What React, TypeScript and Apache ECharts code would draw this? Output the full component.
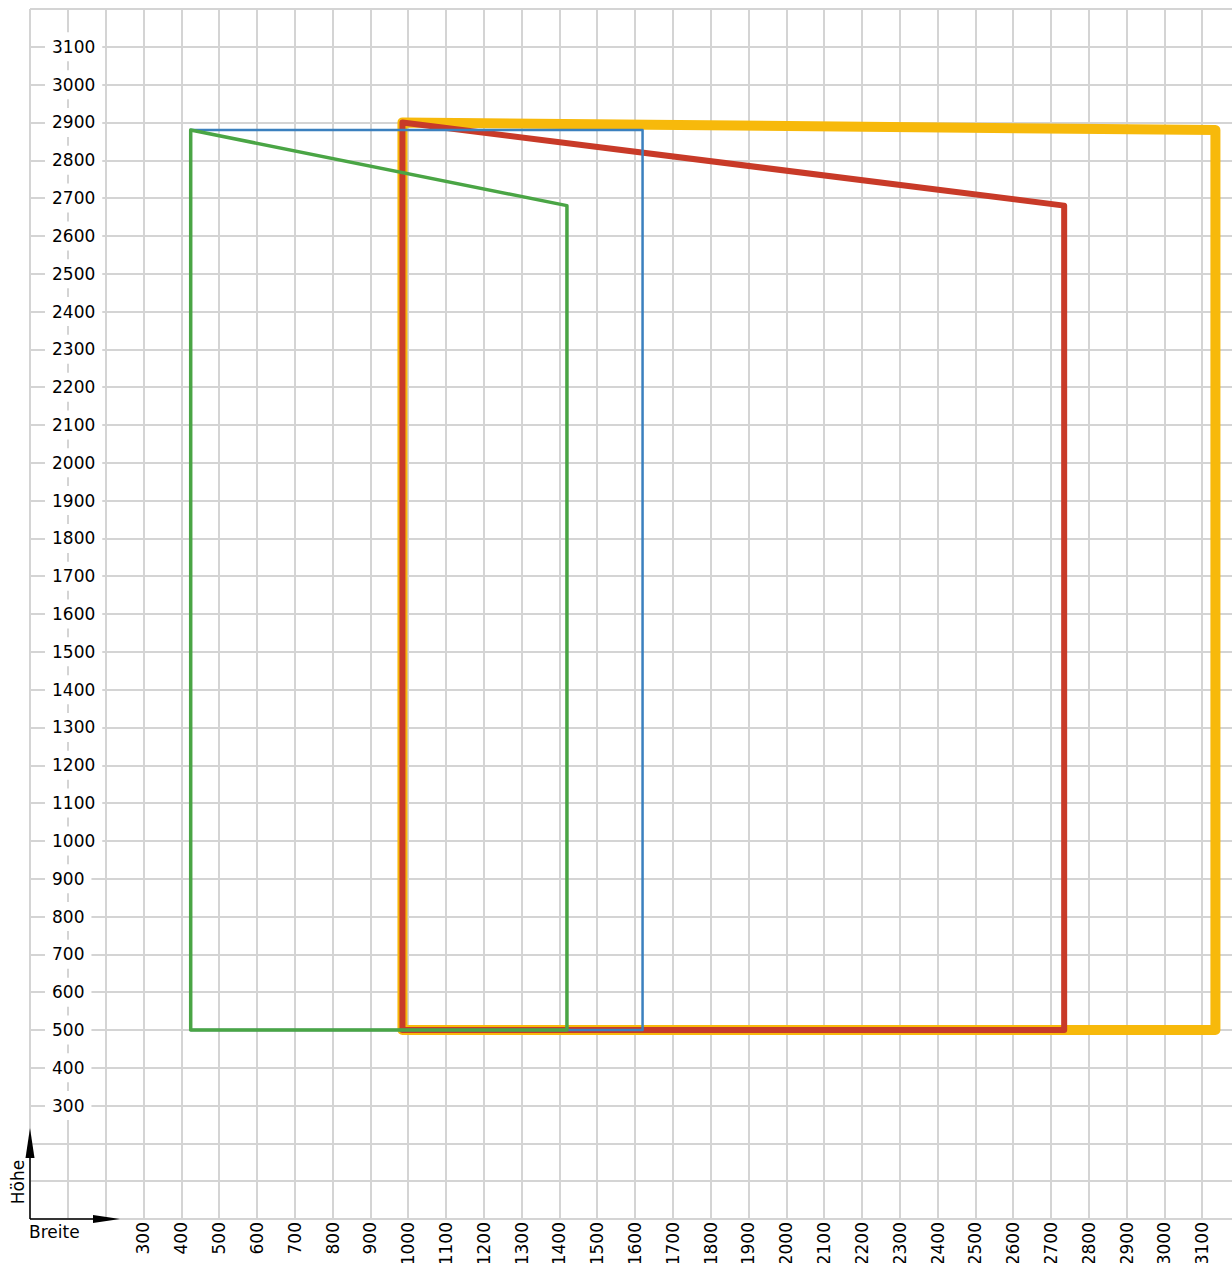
import React, { useEffect, useRef } from "react";
import * as echarts from "echarts";

// Tick labels (shown values)
const xTickLabels = [300, 400, 500, 600, 700, 800, 900, 1000, 1100, 1200, 1300, 1400, 1500, 1600, 1700, 1800, 1900, 2000, 2100, 2200, 2300, 2400, 2500, 2600, 2700, 2800, 2900, 3000, 3100];
const yTickLabels = [300, 400, 500, 600, 700, 800, 900, 1000, 1100, 1200, 1300, 1400, 1500, 1600, 1700, 1800, 1900, 2000, 2100, 2200, 2300, 2400, 2500, 2600, 2700, 2800, 2900, 3000, 3100];

// Outlines: [Breite, Höhe]
const yellowShape = [[985, 2900], [3135, 2880], [3135, 500], [985, 500], [985, 2900]];
const redShape = [[985, 2900], [2735, 2680], [2735, 500], [985, 500], [985, 2900]];
const blueShape = [[425, 2880], [1620, 2880], [1620, 500], [425, 500], [425, 2880]];
const greenShape = [[425, 2880], [1420, 2680], [1420, 500], [425, 500], [425, 2880]];

const axisTitleX = "Breite";
const axisTitleY = "Höhe";

const FONT = "DejaVu Sans";
const GRID_COLOR = "#d4d4d4";

export default function App() {
  const ref = useRef<HTMLDivElement>(null);
  useEffect(() => {
    if (!ref.current) return;
    const chart = echarts.init(ref.current, undefined, { renderer: "svg" });
    const lineSeries = (data: number[][], color: string, width: number) => ({
      type: "line",
      data,
      xAxisIndex: 0,
      yAxisIndex: 0,
      showSymbol: false,
      symbol: "none",
      clip: false,
      lineStyle: { color, width, join: "round", cap: "round" },
      z: 2,
    });
    const fmt = (v: number) => String(v);
    chart.setOption({
      animation: false,
      backgroundColor: "#ffffff",
      textStyle: { fontFamily: FONT },
      grid: {
        left: 30,
        top: 9,
        width: 1210,
        height: 1210,
        containLabel: false,
        outerBoundsMode: "none",
      },
      xAxis: {
        type: "value",
        min: 0,
        max: 3200,
        interval: 100,
        axisLine: { show: false },
        axisTick: { show: false },
        splitLine: { show: true, showMinLine: true, showMaxLine: true, lineStyle: { color: GRID_COLOR, width: 2 } },
        axisLabel: {
          show: true,
          rotate: 90,
          margin: 3,
          customValues: xTickLabels,
          formatter: fmt,
          fontSize: 17,
          fontFamily: FONT,
          color: "#000",
        },
      },
      yAxis: [
        {
          type: "value",
          min: 0,
          max: 3200,
          interval: 100,
          axisLine: { show: false },
          axisTick: { show: false },
          axisLabel: { show: false },
          splitLine: { show: true, showMinLine: true, showMaxLine: true, lineStyle: { color: GRID_COLOR, width: 2 } },
          z: 0,
        },
        {
          type: "value",
          min: 0,
          max: 3200,
          interval: 100,
          position: "left",
          axisLine: { show: false },
          axisTick: { show: false },
          splitLine: { show: false },
          axisLabel: {
            show: true,
            inside: true,
            margin: 15,
            customValues: yTickLabels,
            formatter: fmt,
            fontSize: 17,
            fontFamily: FONT,
            color: "#000",
            backgroundColor: "#ffffff",
            padding: [6, 7, 6, 7],
            align: "left",
            verticalAlign: "middle",
          },
          z: 3,
        },
      ],
      series: [
        lineSeries(yellowShape, "#F7B90B", 10),
        lineSeries(redShape, "#C83A28", 6),
        lineSeries(blueShape, "#3B80BE", 2.5),
        lineSeries(greenShape, "#4AA545", 3.5),
      ],
      graphic: [
        { type: "line", shape: { x1: 30, y1: 1219, x2: 30, y2: 1150 }, style: { stroke: "#000", lineWidth: 1.5 }, z: 10 },
        { type: "polygon", shape: { points: [[30, 1128], [25.5, 1158], [34.5, 1158]] }, style: { fill: "#000" }, z: 10 },
        { type: "line", shape: { x1: 30, y1: 1219, x2: 100, y2: 1219 }, style: { stroke: "#000", lineWidth: 1.5 }, z: 10 },
        { type: "polygon", shape: { points: [[120, 1219], [93, 1215], [93, 1223]] }, style: { fill: "#000" }, z: 10 },
        {
          type: "text",
          x: 18,
          y: 1182,
          rotation: Math.PI / 2,
          style: { text: axisTitleY, fontSize: 17, fontFamily: FONT, fill: "#000", align: "center", verticalAlign: "middle" },
          z: 10,
        },
        {
          type: "text",
          x: 29,
          y: 1232,
          style: { text: axisTitleX, fontSize: 17, fontFamily: FONT, fill: "#000", align: "left", verticalAlign: "middle" },
          z: 10,
        },
      ],
    });
    return () => chart.dispose();
  }, []);
  return (
    <div
      ref={ref}
      style={{ position: "absolute", left: 0, top: 0, width: 1232, height: 1263 }}
    />
  );
}
